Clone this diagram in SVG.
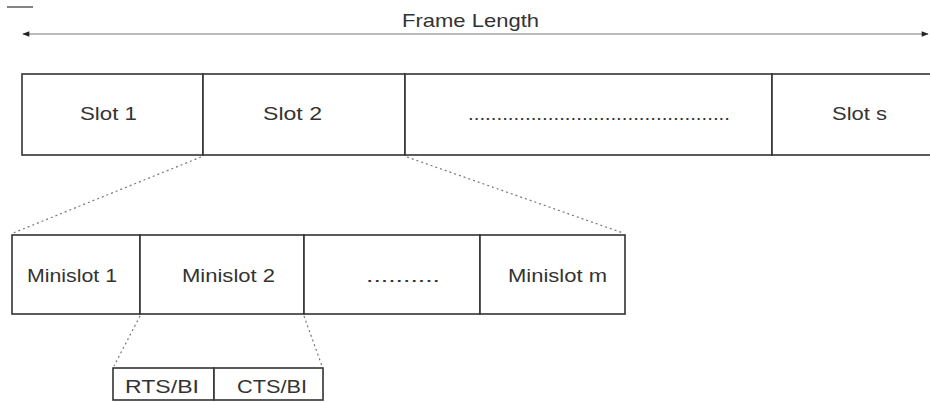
<svg xmlns="http://www.w3.org/2000/svg" width="930" height="402" viewBox="0 0 930 402">
<style>
.box{fill:#fff;stroke:#333;stroke-width:1.6}
.t{font-family:"Liberation Sans",Arial,sans-serif;font-size:19px;fill:#333}
.dot{fill:none;stroke:#777;stroke-width:1.2;stroke-dasharray:2 3}
.arr{fill:none;stroke:#777;stroke-width:1}
</style>
<defs>
<marker id="ah" viewBox="0 0 10 10" refX="9" refY="5" markerWidth="9" markerHeight="7" orient="auto-start-reverse" markerUnits="userSpaceOnUse">
<path d="M0,1 L10,5 L0,9 Z" fill="#222"/>
</marker>
</defs>
<line x1="7" y1="7" x2="33" y2="7" stroke="#333" stroke-width="1.2"/>
<g id="frame-length">
<line class="arr" x1="23" y1="34" x2="928" y2="34" marker-start="url(#ah)" marker-end="url(#ah)"/>
<text class="t" x="402" y="27" textLength="137" lengthAdjust="spacingAndGlyphs">Frame Length</text>
</g>
<g id="slot1"><rect class="box" x="22" y="74" width="181" height="81"/><text class="t" x="80" y="120" textLength="57" lengthAdjust="spacingAndGlyphs">Slot 1</text></g>
<g id="slot2"><rect class="box" x="203" y="74" width="202" height="81"/><text class="t" x="263" y="120" textLength="59" lengthAdjust="spacingAndGlyphs">Slot 2</text></g>
<g id="slot-dots"><rect class="box" x="405" y="74" width="367" height="81"/><text class="t" x="468" y="120" textLength="262" lengthAdjust="spacingAndGlyphs">..............................................</text></g>
<g id="slots"><rect class="box" x="772" y="74" width="180" height="81"/><text class="t" x="832" y="120" textLength="55" lengthAdjust="spacingAndGlyphs">Slot s</text></g>
<g id="minislot1"><rect class="box" x="12" y="235" width="128" height="79"/><text class="t" x="27" y="282" textLength="90" lengthAdjust="spacingAndGlyphs">Minislot 1</text></g>
<g id="minislot2"><rect class="box" x="140" y="235" width="164" height="79"/><text class="t" x="182" y="282" textLength="93" lengthAdjust="spacingAndGlyphs">Minislot 2</text></g>
<g id="minislot-dots"><rect class="box" x="304" y="235" width="176" height="79"/><text class="t" x="366" y="282" textLength="74" lengthAdjust="spacingAndGlyphs">..........</text></g>
<g id="minislotm"><rect class="box" x="480" y="235" width="145" height="79"/><text class="t" x="508" y="282" textLength="99" lengthAdjust="spacingAndGlyphs">Minislot m</text></g>
<g id="rts"><rect class="box" x="113" y="368" width="101" height="32"/><text class="t" x="125" y="393" textLength="74" lengthAdjust="spacingAndGlyphs">RTS/BI</text></g>
<g id="cts"><rect class="box" x="214" y="368" width="109" height="32"/><text class="t" x="237" y="393" textLength="70" lengthAdjust="spacingAndGlyphs">CTS/BI</text></g>
<g id="connectors">
<line class="dot" x1="201" y1="157" x2="13" y2="233"/>
<line class="dot" x1="407" y1="157" x2="623" y2="233"/>
<line class="dot" x1="140" y1="316" x2="114" y2="366"/>
<line class="dot" x1="304" y1="316" x2="322" y2="366"/>
</g>
</svg>
